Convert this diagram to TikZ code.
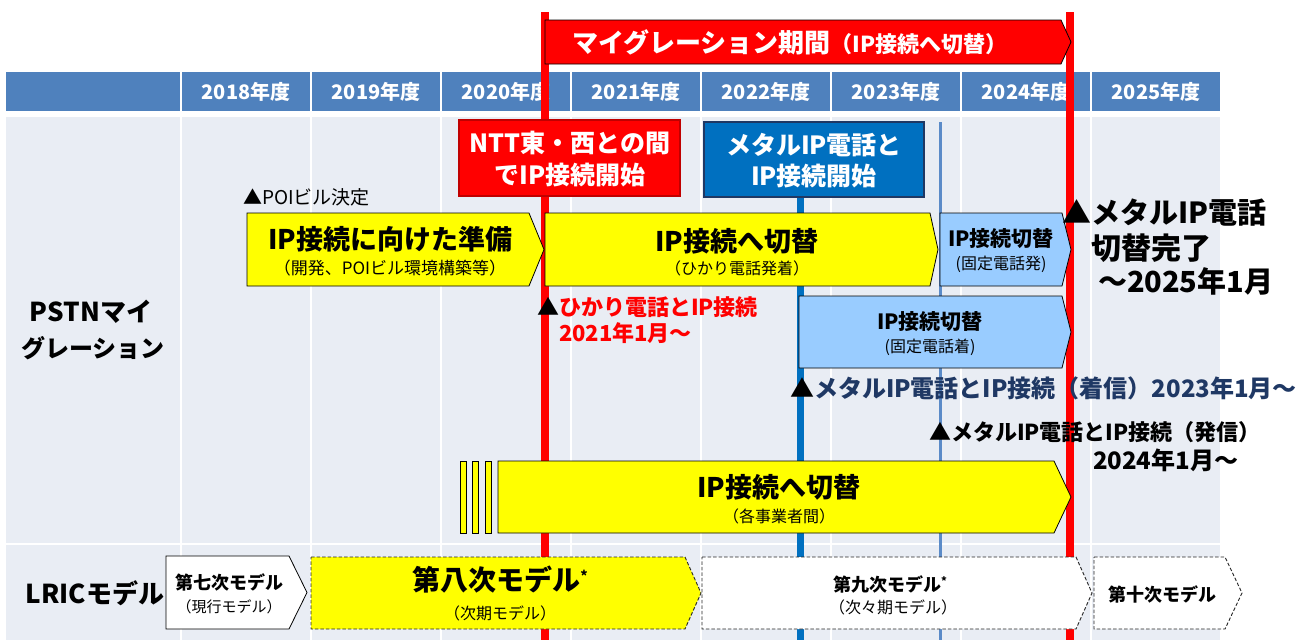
\documentclass[tikz,border=0pt]{standalone}
\usepackage{fontspec}
\setmainfont{Noto Sans CJK JP}
\newcommand\fsz[1]{\fontsize{#1pt}{#1pt}\selectfont}
\definecolor{hdr}{HTML}{4F81BD}
\definecolor{bodybg}{HTML}{E9EDF4}
\definecolor{mred}{HTML}{FF0000}
\definecolor{dred}{HTML}{C00000}
\definecolor{mblue}{HTML}{0070C0}
\definecolor{navy}{HTML}{1F3864}
\definecolor{thinblue}{HTML}{5B8BC8}
\definecolor{chyellow}{HTML}{FFFF00}
\definecolor{chblue}{HTML}{99CCFF}
\tikzset{
  cell/.style={fill=hdr},
  bcell/.style={fill=bodybg},
  hdrtext/.style={text=white,font=\bfseries\fsz{20}},
  chev/.style={draw=black,line width=0.8pt},
  chevy/.style={chev,fill=chyellow},
  chevb/.style={chev,fill=chblue},
  chevw/.style={chev,fill=white},
  dashbox/.style={draw=black!85,line width=0.9pt,dash pattern=on 3.5pt off 2pt},
  redline/.style={draw=mred,line width=8pt},
  blueline/.style={draw=mblue,line width=7pt},
  thinline/.style={draw=thinblue,line width=3pt},
  mainlbl/.style={font=\bfseries\fsz{27}},
  sublbl/.style={font=\fsz{16}},
  every node/.style={inner sep=0pt,outer sep=0pt}
}
\begin{document}
\begin{tikzpicture}[x=1pt,y=-1pt]
\useasboundingbox (0,0) rectangle (1299,640);
% header and body grid
\fill[cell] (6,72) rectangle (180,111);
\fill[bcell] (6,117) rectangle (180,543);
\fill[bcell] (6,545) rectangle (180,640);
\foreach \i in {0,...,7}{
  \pgfmathsetmacro{\l}{182+130*\i}
  \pgfmathtruncatemacro{\yr}{2018+\i}
  \fill[cell] (\l,72) rectangle ++(128,39);
  \fill[bcell] (\l,117) rectangle ++(128,426);
  \fill[bcell] (\l,545) rectangle ++(128,95);
  \node[hdrtext] (yr\i) at (\l+64,92) {\yr 年度};
}
% vertical markers
\coordinate (rl1t) at (545,12); \coordinate (rl1b) at (545,640);
\coordinate (rl2t) at (1070,12); \coordinate (rl2b) at (1070,640);
\coordinate (bl1t) at (800,197); \coordinate (bl1b) at (800,640);
\coordinate (bl2t) at (940,122); \coordinate (bl2b) at (940,640);
\draw[thinline] (bl2t) -- (bl2b);
\draw[blueline] (bl1t) -- (bl1b);
\draw[redline] (rl1t) -- (rl1b);
\draw[redline] (rl2t) -- (rl2b);
% banner
\path[fill=mred,draw=black,line width=0.8pt] (545,20) -- (1061,20) -- (1071,42) -- (1061,64) -- (545,64) -- cycle;
\node[anchor=west,text=white,font=\bfseries] (banner) at (572,42)
  {{\fsz{26}マイグレーション期間}{\fsz{22}（IP接続へ切替）}};
% red box
\node[fill=mred,draw=dred,line width=1.5pt,minimum width=221pt,minimum height=76pt] (redbox) at (569.5,158) {};
\node[text=white,font=\bfseries\fsz{25}] (rb1) at (570,143) {NTT東・西との間};
\node[text=white,font=\bfseries\fsz{25}] (rb2) at (570,175) {でIP接続開始};
% blue box
\node[fill=mblue,draw=navy,line width=1.5pt,minimum width=220pt,minimum height=75pt] (bluebox) at (814,159.5) {};
\node[text=white,font=\bfseries\fsz{25}] (bb1) at (814,145) {メタルIP電話と};
\node[text=white,font=\bfseries\fsz{25}] (bb2) at (814,176) {IP接続開始};
% PSTN chevrons
\path[chevy] (247,213) -- (529,213) -- (544,249.5) -- (529,286) -- (247,286) -- cycle;
\node[mainlbl] (c1a) at (390,239) {IP接続に向けた準備};
\node[font=\fsz{17}] (c1b) at (390,268) {（開発、POIビル環境構築等）};
\path[chevy] (545,213) -- (930,213) -- (938,249.5) -- (930,286) -- (545,286) -- cycle;
\node[mainlbl] (c2a) at (737,241) {IP接続へ切替};
\node[sublbl] (c2b) at (737,268) {（ひかり電話発着）};
\path[chevb] (940,213) -- (1062,213) -- (1071,249.5) -- (1062,286) -- (940,286) -- cycle;
\node[font=\bfseries\fsz{21}] (c3a) at (1001,239) {IP接続切替};
\node[sublbl] (c3b) at (1001,264) {(固定電話発)};
\path[chevb] (799,296) -- (1062,296) -- (1071,332) -- (1062,368) -- (799,368) -- cycle;
\node[font=\bfseries\fsz{21}] (c4a) at (930,322) {IP接続切替};
\node[sublbl] (c4b) at (930,347) {(固定電話着)};
\path[chevy] (460,461) rectangle (466,533);
\path[chevy] (472,461) rectangle (478,533);
\path[chevy] (485,461) rectangle (491,533);
\path[chevy] (498,461) -- (1054,461) -- (1071,497) -- (1054,533) -- (498,533) -- cycle;
\node[mainlbl] (c5a) at (779,487) {IP接続へ切替};
\node[sublbl] (c5b) at (779,516) {（各事業者間）};
% LRIC chevrons
\path[chevw] (166,556) -- (289,556) -- (307,592.5) -- (289,629) -- (166,629) -- cycle;
\node[font=\bfseries\fsz{18}] (m7a) at (229,582) {第七次モデル};
\node[font=\fsz{15}] (m7b) at (229,607) {（現行モデル）};
\path[dashbox,fill=chyellow] (311,557) -- (685,557) -- (701,593) -- (685,629) -- (311,629) -- cycle;
\node[font=\bfseries\fsz{28}] (m8a) at (500,580) {第八次モデル\raisebox{9pt}{\fsz{14}*}};
\node[sublbl] (m8b) at (500,613) {（次期モデル）};
\path[dashbox,fill=white] (702,557) -- (1076,557) -- (1092,593) -- (1076,629) -- (702,629) -- cycle;
\node[font=\bfseries\fsz{18}] (m9a) at (890,584) {第九次モデル\raisebox{6pt}{\fsz{11}*}};
\node[sublbl] (m9b) at (893,607) {（次々期モデル）};
\path[dashbox,fill=white] (1094,557) -- (1225,557) -- (1242,593) -- (1225,629) -- (1094,629) -- cycle;
\node[font=\bfseries\fsz{18}] (m10) at (1162,594) {第十次モデル};
% row labels
\node[font=\bfseries\fsz{26}] (pstn1) at (91,312) {PSTNマイ};
\node[font=\bfseries\fsz{24}] (pstn2) at (93,348) {グレーション};
\node[font=\bfseries\fsz{26}] (lric) at (95,593) {LRICモデル};
% annotations
\node[anchor=west,font=\fsz{19}] (poi) at (243,197) {▲POIビル決定};
\node[anchor=west,text=mred,font=\bfseries\fsz{22}] (hk1) at (537,307) {\textcolor{black}{▲}ひかり電話とIP接続};
\node[anchor=west,text=mred,font=\bfseries\fsz{22}] (hk2) at (559,333) {2021年1月～};
\node[anchor=west,text=navy,font=\bfseries\fsz{24}] (chak) at (790,388) {\textcolor{black}{▲}メタルIP電話とIP接続（着信）2023年1月～};
\node[anchor=west,font=\bfseries\fsz{22}] (hass1) at (929,432) {▲メタルIP電話とIP接続（発信）};
\node[anchor=west,font=\bfseries\fsz{24}] (hass2) at (1093,460) {2024年1月～};
\node[anchor=west,font=\bfseries\fsz{29}] (fin1) at (1062,213) {▲メタルIP電話};
\node[anchor=west,font=\bfseries\fsz{30}] (fin2) at (1091,248) {切替完了};
\node[anchor=west,font=\bfseries\fsz{29}] (fin3) at (1098,281) {～2025年1月};
\end{tikzpicture}
\end{document}
